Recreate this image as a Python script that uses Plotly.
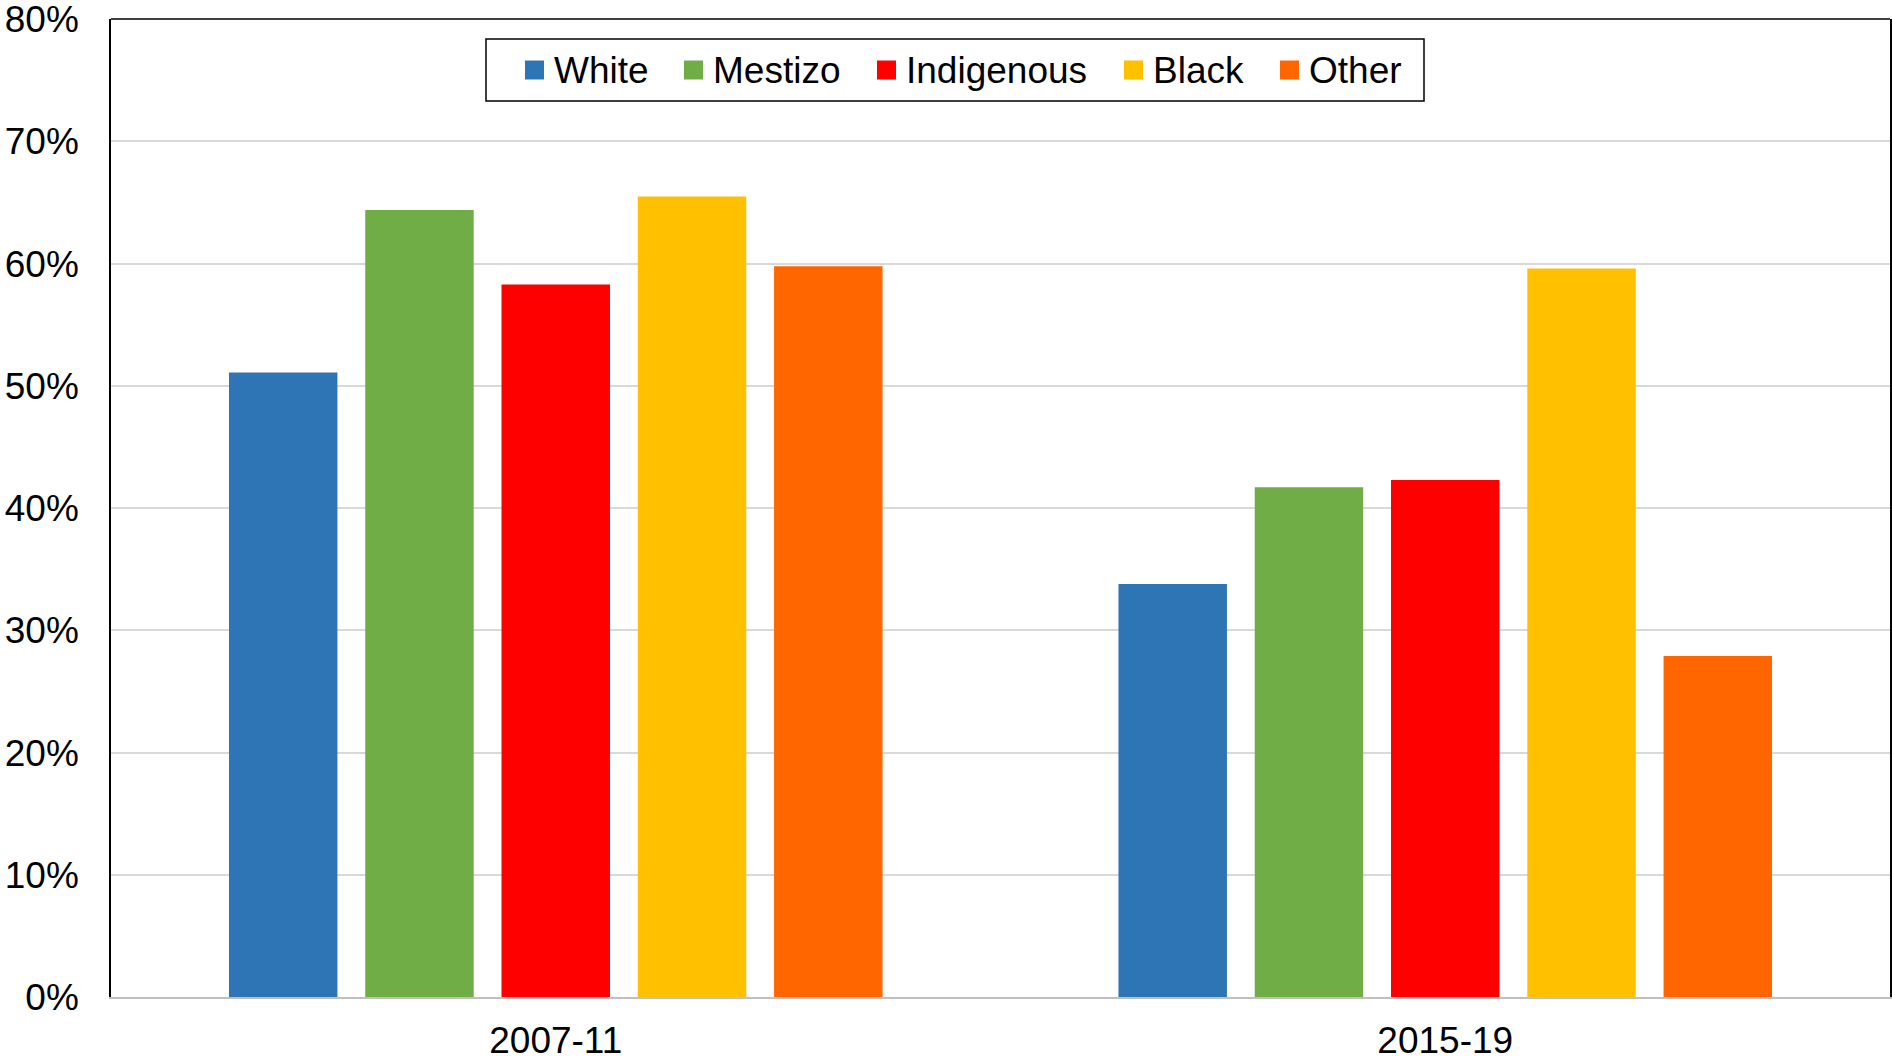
import plotly.graph_objects as go

# ---- data ----
periods = ["2007-11", "2015-19"]
groups = ["White", "Mestizo", "Indigenous", "Black", "Other"]
white = [0.511, 0.338]
mestizo = [0.644, 0.417]
indigenous = [0.583, 0.423]
black = [0.655, 0.596]
other = [0.598, 0.279]
y_ticks = [0, 0.1, 0.2, 0.3, 0.4, 0.5, 0.6, 0.7, 0.8]
y_tick_labels = ["0%", "10%", "20%", "30%", "40%", "50%", "60%", "70%", "80%"]

series = [white, mestizo, indigenous, black, other]
colors = ["#2E75B6", "#70AD47", "#FF0000", "#FFC000", "#FF6600"]

W, H = 1892, 1056
L, R, T, B = 111, 2, 19, 59
FONT = "Liberation Sans, Arial, sans-serif"
FS = 37

fig = go.Figure()
for name, vals, col in zip(groups, series, colors):
    fig.add_trace(go.Bar(
        x=periods, y=vals, name=name,
        marker=dict(color=col, line=dict(width=0)),
        showlegend=False,
    ))

pw = W - L - R
ph = H - T - B


def px(xpix):
    return (xpix - L) / pw


def py(ypix):
    return (H - B - ypix) / ph


shapes = []
annotations = []
# top border of plot area
shapes.append(dict(type="line", xref="paper", yref="paper", x0=0, x1=1, y0=1, y1=1,
                   line=dict(color="black", width=1.5)))
# legend box
shapes.append(dict(type="rect", xref="paper", yref="paper",
                   x0=px(486), x1=px(1424), y0=py(101), y1=py(39),
                   line=dict(color="black", width=1.5), fillcolor="white", layer="above"))
sq_x = [525, 684, 877, 1124, 1280]
tx_x = [552, 711, 904, 1151, 1307]
for name, col, sx, tx in zip(groups, colors, sq_x, tx_x):
    shapes.append(dict(type="rect", xref="paper", yref="paper",
                       x0=px(sx), x1=px(sx + 19), y0=py(79.5), y1=py(60.5),
                       line=dict(width=0), fillcolor=col, layer="above"))
    annotations.append(dict(xref="paper", yref="paper", x=px(tx), y=py(70),
                            xanchor="left", yanchor="middle", showarrow=False,
                            text=name, font=dict(family=FONT, size=FS, color="black")))

fig.update_layout(
    width=W, height=H,
    margin=dict(l=L, r=R, t=T, b=B, pad=0),
    paper_bgcolor="white", plot_bgcolor="white",
    barmode="group", bargap=0.234, bargroupgap=0.204,
    font=dict(family=FONT, size=FS, color="black"),
    shapes=shapes, annotations=annotations,
    xaxis=dict(type="category", showline=True, linecolor="#BFBFBF", linewidth=2,
               showgrid=False, automargin=False, ticklabeloverflow="allow",
               ticks="", tickfont=dict(family=FONT, size=FS, color="black"),
               ticklabelstandoff=10, zeroline=False),
    yaxis=dict(range=[0, 0.8002], tickmode="array", tickvals=y_ticks, ticktext=y_tick_labels,
               showgrid=True, gridcolor="#D9D9D9", gridwidth=2, automargin=False,
               ticklabeloverflow="allow",
               showline=True, linecolor="black", linewidth=1.5, mirror=True,
               ticks="", tickfont=dict(family=FONT, size=FS, color="black"),
               ticklabelstandoff=23, zeroline=False),
)

fig.write_html(
    "out.html",
    config={"displayModeBar": False},
    post_script="document.body.style.margin='0';document.body.style.overflow='hidden';",
)
